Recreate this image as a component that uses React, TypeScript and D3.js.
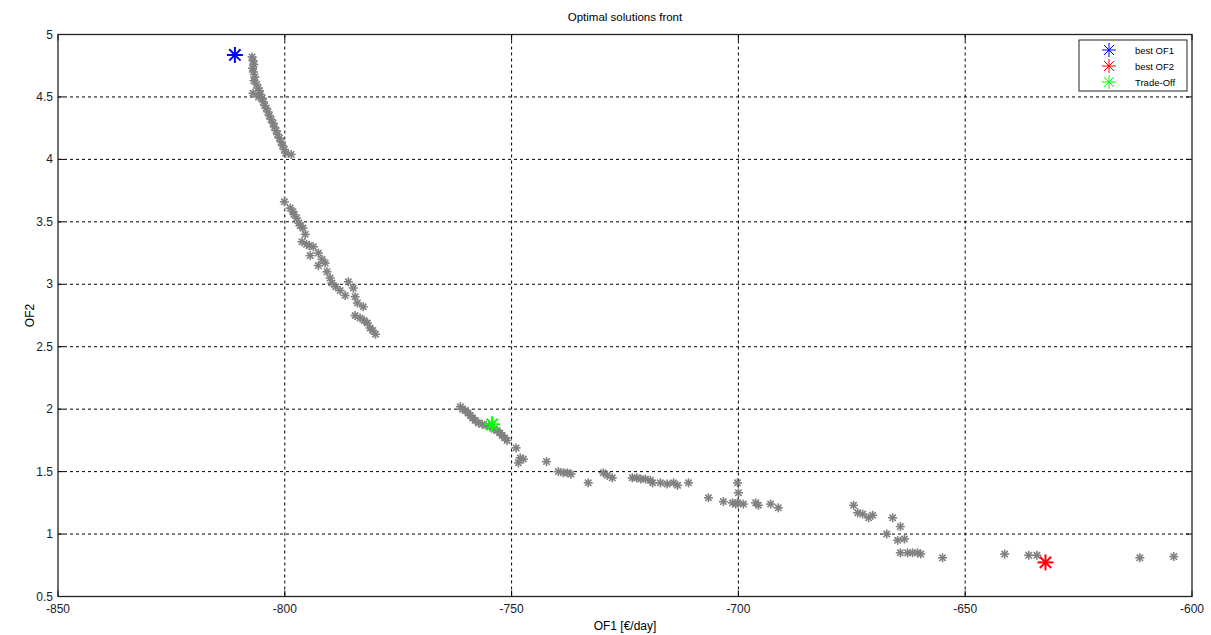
import React from "react";
import * as d3 from "d3";

const title = "Optimal solutions front";
const xLabel = "OF1 [€/day]";
const yLabel = "OF2";
const xTicks = [-850, -800, -750, -700, -650, -600];
const yTicks = [0.5, 1, 1.5, 2, 2.5, 3, 3.5, 4, 4.5, 5];

// Pareto front solutions [OF1, OF2]
const frontOF1 = [
  -807.2, -807.0, -806.8, -807.1, -806.9, -806.6, -806.8, -806.2, -805.9, -805.6, -805.4, -805.0, -804.7, -804.4, -804.1,
  -803.7, -803.4, -803.0, -802.6, -802.3, -801.9, -801.6, -801.2, -800.8, -800.5, -800.1, -799.8, -798.6, -807.0, -805.8,
  -800.1, -798.8, -798.2, -797.4, -796.9, -796.6, -796.0, -796.2, -795.2, -794.6, -793.7, -792.6, -794.4, -791.8, -791.1,
  -792.6, -790.7, -790.0, -789.6, -788.8, -787.8, -786.7, -786.0, -784.9, -784.5, -784.0, -782.7, -784.5, -783.4, -782.5,
  -781.8, -781.2, -780.0, -780.6, -798.0, -795.5,
  -761.3, -760.8, -760.2, -759.6, -759.1, -758.6, -758.0, -757.3, -756.5, -755.6, -754.8, -753.9, -753.2, -752.6, -752.1,
  -751.5, -751.0, -749.0, -748.1, -748.5, -747.4, -742.3, -739.7, -738.6, -737.7, -736.9,
  -733.1, -729.8, -728.9, -727.8, -723.4, -722.4, -721.5, -720.5, -719.4, -718.9, -717.2, -715.7, -714.3, -713.4, -711.0,
  -706.6, -700.2, -700.0, -703.3, -701.3, -700.6, -700.2, -698.9, -696.2, -695.6, -692.9, -691.2,
  -674.6, -673.7, -672.6, -671.3, -670.4, -666.0, -664.3, -667.3, -664.9, -663.4, -664.3, -662.7, -661.6, -660.5, -659.8,
  -655.0, -641.3, -636.0, -634.2, -611.5, -604.0,
];
const frontOF2 = [
  4.82, 4.79, 4.76, 4.73, 4.70, 4.66, 4.63, 4.60, 4.57, 4.55, 4.52, 4.49, 4.46, 4.43, 4.41,
  4.38, 4.35, 4.32, 4.29, 4.26, 4.23, 4.20, 4.17, 4.14, 4.11, 4.08, 4.05, 4.04, 4.53, 4.50,
  3.66, 3.61, 3.58, 3.53, 3.49, 3.47, 3.45, 3.34, 3.32, 3.31, 3.30, 3.25, 3.23, 3.20, 3.17,
  3.15, 3.10, 3.05, 3.01, 2.98, 2.95, 2.91, 3.02, 2.97, 2.90, 2.85, 2.82, 2.75, 2.73, 2.71,
  2.69, 2.65, 2.60, 2.63, 3.56, 3.40,
  2.02, 2.00, 1.99, 1.97, 1.95, 1.93, 1.91, 1.89, 1.88, 1.87, 1.86, 1.84, 1.83, 1.81, 1.79,
  1.77, 1.75, 1.69, 1.61, 1.57, 1.60, 1.58, 1.50, 1.49, 1.49, 1.48,
  1.41, 1.49, 1.47, 1.45, 1.45, 1.45, 1.44, 1.44, 1.43, 1.41, 1.41, 1.40, 1.41, 1.39, 1.41,
  1.29, 1.41, 1.33, 1.26, 1.25, 1.24, 1.25, 1.24, 1.25, 1.23, 1.24, 1.21,
  1.23, 1.17, 1.16, 1.13, 1.15, 1.13, 1.06, 1.00, 0.95, 0.96, 0.85, 0.85, 0.85, 0.85, 0.84,
  0.81, 0.84, 0.83, 0.83, 0.81, 0.82,
];

const legendNames = ["best OF1", "best OF2", "Trade-Off"];
const legendColors = ["#0000ff", "#ff0000", "#00ff00"];
const bestOF1 = [-811.0, 4.836];
const bestOF2 = [-632.3, 0.773];
const tradeOff = [-754.3, 1.879];
const highlights = [bestOF1, bestOF2, tradeOff];

const W = 1211;
const H = 635;
const M = { left: 58, right: 1192, top: 34.5, bottom: 596.5 };

function Star({ x, y, r, color, sw }: { x: number; y: number; r: number; color: string; sw: number }) {
  const d = r * 0.7071;
  return (
    <g stroke={color} strokeWidth={sw}>
      <line x1={x - r} y1={y} x2={x + r} y2={y} />
      <line x1={x} y1={y - r} x2={x} y2={y + r} />
      <line x1={x - d} y1={y - d} x2={x + d} y2={y + d} />
      <line x1={x - d} y1={y + d} x2={x + d} y2={y - d} />
    </g>
  );
}

export default function App() {
  const x = d3.scaleLinear().domain([-850, -600]).range([M.left, M.right]);
  const y = d3.scaleLinear().domain([0.5, 5]).range([M.bottom, M.top]);
  const font = "'Liberation Sans', Arial, sans-serif";
  return (
    <svg width={W} height={H} style={{ position: "absolute", left: 0, top: 0, background: "#fff" }} fontFamily={font}>
      <rect x={0} y={0} width={W} height={H} fill="#fff" />
      {/* grid */}
      {xTicks.slice(1, -1).map((t) => (
        <line key={"gx" + t} x1={x(t)} x2={x(t)} y1={M.top} y2={M.bottom} stroke="#000" strokeWidth={1} strokeDasharray="3,3" />
      ))}
      {yTicks.slice(1, -1).map((t) => (
        <line key={"gy" + t} x1={M.left} x2={M.right} y1={y(t)} y2={y(t)} stroke="#000" strokeWidth={1} strokeDasharray="3,3" />
      ))}
      {/* ticks */}
      {xTicks.map((t) => (
        <g key={"tx" + t}>
          <line x1={x(t)} x2={x(t)} y1={M.bottom} y2={M.bottom - 6} stroke="#000" />
          <line x1={x(t)} x2={x(t)} y1={M.top} y2={M.top + 6} stroke="#000" />
          <text x={x(t)} y={M.bottom + 16} fontSize={12} textAnchor="middle" fill="#1a1a2a">{t}</text>
        </g>
      ))}
      {yTicks.map((t) => (
        <g key={"ty" + t}>
          <line x1={M.left} x2={M.left + 6} y1={y(t)} y2={y(t)} stroke="#000" />
          <line x1={M.right} x2={M.right - 6} y1={y(t)} y2={y(t)} stroke="#000" />
          <text x={M.left - 5} y={y(t) + 4} fontSize={12} textAnchor="end" fill="#1a1a2a">{t}</text>
        </g>
      ))}
      {/* box */}
      <rect x={M.left} y={M.top} width={M.right - M.left} height={M.bottom - M.top} fill="none" stroke="#222" strokeWidth={1.3} />
      {/* points */}
      {frontOF1.map((v, i) => (
        <Star key={"p" + i} x={x(v)} y={y(frontOF2[i])} r={4.5} color="#808080" sw={1.6} />
      ))}
      {highlights.map((p, i) => (
        <Star key={"h" + i} x={x(p[0])} y={y(p[1])} r={8} color={legendColors[i]} sw={2} />
      ))}
      {/* titles */}
      <text x={(M.left + M.right) / 2} y={21} fontSize={11.5} textAnchor="middle" fill="#000">{title}</text>
      <text x={(M.left + M.right) / 2} y={630} fontSize={12} textAnchor="middle" fill="#000">{xLabel}</text>
      <text transform={`translate(34,${(M.top + M.bottom) / 2}) rotate(-90)`} fontSize={12} textAnchor="middle" fill="#000">{yLabel}</text>
      {/* legend */}
      <rect x={1079} y={40} width={108} height={51} fill="#fff" stroke="#222" strokeWidth={1} />
      {legendNames.map((n, i) => (
        <g key={"l" + i}>
          <Star x={1109} y={50 + i * 16} r={7} color={legendColors[i]} sw={1} />
          <text x={1135} y={53.5 + i * 16} fontSize={9.5} fill="#000">{n}</text>
        </g>
      ))}
    </svg>
  );
}
